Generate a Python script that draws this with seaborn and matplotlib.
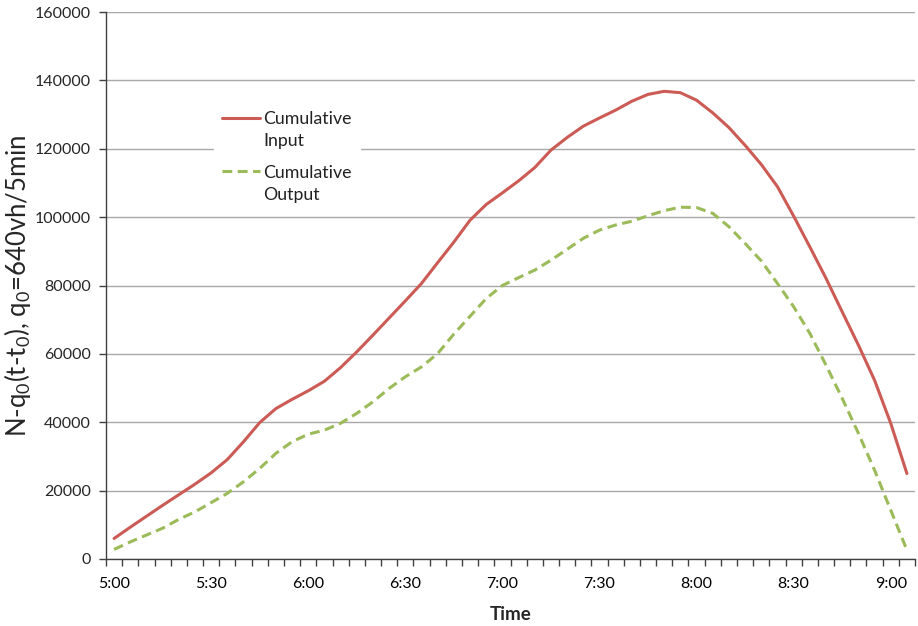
import numpy as np
import pandas as pd
import matplotlib
matplotlib.use("Agg")
import matplotlib.pyplot as plt
from matplotlib.ticker import FixedLocator, FuncFormatter
import seaborn as sns

# ---- data (5-minute intervals from 5:00 to 9:05) ----
cumulative_input = [6000, 9300, 12500, 15700, 18800, 21900, 25200, 29100, 34300, 39900,
                     44000, 46700, 49200, 52000, 56000, 60600, 65500, 70500, 75500, 80600,
                     86700, 92700, 99100, 103700, 107100, 110600, 114500, 119600, 123300, 126600,
                     129000, 131300, 133900, 135900, 136800, 136400, 134200, 130500, 126200, 121000,
                     115400, 108900, 100300, 91300, 82100, 72300, 62600, 52300, 39700, 25000]
cumulative_output = [2800, 5000, 7000, 9000, 11600, 13800, 16500, 19200, 22600, 26500,
                     30900, 34300, 36500, 37700, 39700, 42600, 46000, 49900, 53300, 56200,
                     60100, 65800, 71000, 76200, 80000, 82300, 84500, 87400, 90600, 93800,
                     96200, 97700, 98800, 100400, 101900, 102900, 102800, 101100, 97200, 92300,
                     87200, 80600, 73800, 66000, 56700, 47000, 36800, 26000, 14300, 2600]
tick_labels = ["5:00", "5:30", "6:00", "6:30", "7:00", "7:30", "8:00", "8:30", "9:00"]
series_names = ["Cumulative\nInput", "Cumulative\nOutput"]
y_ticks = [0, 20000, 40000, 60000, 80000, 100000, 120000, 140000, 160000]

n = len(cumulative_input)
idx = np.arange(n)
df = pd.DataFrame({
    "t": np.concatenate([idx, idx]),
    "value": cumulative_input + cumulative_output,
    "series": [series_names[0]] * n + [series_names[1]] * n,
})

sns.set_style("white")
plt.rcParams["font.family"] = ["Lato", "DejaVu Sans"]
plt.rcParams["mathtext.default"] = "regular"

fig = plt.figure(figsize=(9.18, 6.26), dpi=100)
ax = fig.add_axes([106 / 918, 1 - 559 / 626, 809 / 918, 547 / 626])

palette = {series_names[0]: "#CC5B55", series_names[1]: "#9BBB59"}
sns.lineplot(data=df, x="t", y="value", hue="series", style="series",
             palette=palette, dashes={series_names[0]: "", series_names[1]: (3.2, 1.8)},
             linewidth=2.2, ax=ax)

ax.set_xlim(-0.5, n - 0.5)
ax.set_ylim(0, 160000)
ax.set_yticks(y_ticks)
ax.yaxis.set_major_formatter(FuncFormatter(lambda v, p: f"{int(v)}"))
ax.grid(axis="y", color="#a8a8a8", linewidth=1.0)
ax.grid(axis="x", visible=False)

ax.set_xticks(np.arange(0, n, 6))
ax.set_xticklabels(tick_labels)
ax.xaxis.set_minor_locator(FixedLocator(np.arange(-0.5, n, 1)))
ax.tick_params(axis="x", which="major", length=0, pad=13, labelsize=11.5, colors="black")
ax.tick_params(axis="x", which="minor", length=5, width=1, color="#404040", direction="out", bottom=True)
ax.tick_params(axis="y", which="major", length=5, width=1, color="#404040", direction="out", left=True,
               labelsize=11.5, pad=6)

for s in ["top", "right"]:
    ax.spines[s].set_visible(False)
for s in ["left", "bottom"]:
    ax.spines[s].set_color("#404040")
    ax.spines[s].set_linewidth(1.0)

ax.set_xlabel("Time", fontsize=13.5, fontweight="bold", labelpad=11)
ax.set_ylabel(r"N-q$_0$(t-t$_0$), q$_0$=640vh/5min", fontsize=18.5, labelpad=1)

leg = ax.legend(loc="upper left", bbox_to_anchor=(0.122, 0.850), frameon=True,
                fontsize=12.8, handlelength=2.15, labelspacing=0.9, borderpad=0.45,
                handletextpad=0.2)
leg.get_frame().set_facecolor("white")
leg.get_frame().set_edgecolor("white")
leg.get_frame().set_alpha(1.0)
leg.set_title(None)
for t in leg.get_texts():
    t.set_linespacing(1.45)
    t.set_color("#222222")
for ln in leg.get_lines():
    yd = np.asarray(ln.get_ydata(), dtype=float)
    ln.set_ydata(yd + 9.0)

fig.savefig("out.png", dpi=100)
